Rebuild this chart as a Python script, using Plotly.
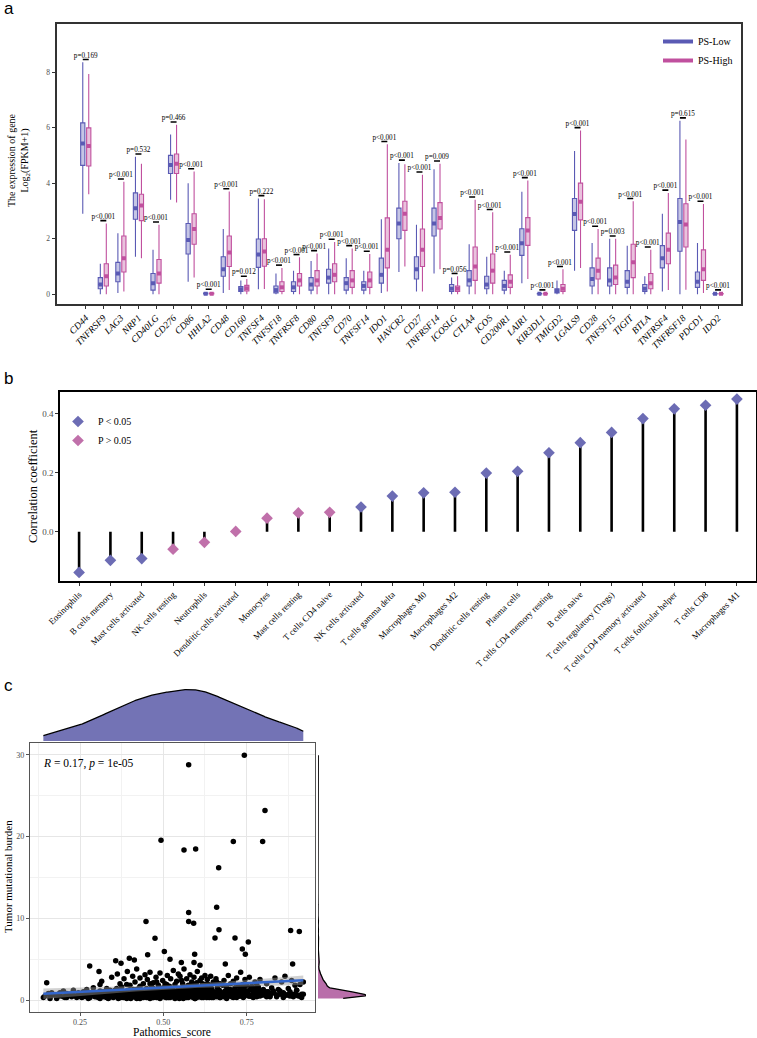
import numpy as np
import plotly.graph_objects as go

W, H = 757, 1038
def fx(p): return p / W
def fy(p): return 1 - p / H

SERIF = "Liberation Serif"
BLUE = "#5A5AB4"
PINK = "#C0509E"
BLUE_FILL = "rgba(90,90,180,0.35)"
PINK_FILL = "rgba(192,80,158,0.35)"

# ---------------- Panel a data ----------------
genes = ["CD44", "TNFRSF9", "LAG3", "NRP1", "CD40LG", "CD276", "CD86", "HHLA2", "CD48", "CD160",
         "TNFSF4", "TNFSF18", "TNFRSF8", "CD80", "TNFSF9", "CD70", "TNFSF14", "IDO1", "HAVCR2", "CD27",
         "TNFRSF14", "ICOSLG", "CTLA4", "ICOS", "CD200R1", "LAIR1", "KIR3DL1", "TMIGD2", "LGALS9", "CD28",
         "TNFSF15", "TIGIT", "BTLA", "TNFRSF4", "TNFRSF18", "PDCD1", "IDO2"]
low_lower = [2.9, 0.0, 0.05, 1.35, 0.0, 3.4, 0.45, 0.0, 0.05, 0.0,
             0.18, 0.0, 0.0, 0.0, 0.0, 0.0, 0.0, 0.05, 0.8, 0.1,
             0.75, 0.0, 0.0, 0.0, 0.0, 0.4, 0.0, 0.0, 0.85, 0.0,
             0.0, 0.0, 0.0, 0.1, 0.0, 0.0, 0.0]
low_q1 = [4.64, 0.2, 0.45, 2.7, 0.15, 4.35, 1.45, 0.01, 0.65, 0.1,
          0.97, 0.05, 0.1, 0.15, 0.4, 0.15, 0.15, 0.4, 2.0, 0.55,
          2.1, 0.1, 0.3, 0.2, 0.15, 1.4, 0.01, 0.05, 2.3, 0.3,
          0.3, 0.25, 0.1, 0.95, 1.55, 0.25, 0.01]
low_median = [5.43, 0.35, 0.75, 3.1, 0.4, 4.65, 1.95, 0.02, 0.9, 0.18,
              1.43, 0.15, 0.25, 0.35, 0.6, 0.4, 0.3, 0.7, 2.55, 0.9,
              2.55, 0.2, 0.5, 0.35, 0.3, 1.84, 0.02, 0.12, 2.89, 0.55,
              0.5, 0.45, 0.2, 1.3, 2.6, 0.45, 0.02]
low_q3 = [6.17, 0.6, 1.15, 3.65, 0.75, 5.0, 2.55, 0.04, 1.35, 0.28,
          1.99, 0.3, 0.45, 0.6, 0.9, 0.6, 0.45, 1.3, 3.1, 1.35,
          3.1, 0.35, 0.85, 0.65, 0.5, 2.36, 0.03, 0.2, 3.45, 0.95,
          0.95, 0.85, 0.35, 1.75, 3.45, 0.8, 0.03]
low_upper = [8.35, 1.1, 2.2, 4.95, 1.6, 5.75, 4.0, 0.08, 2.35, 0.5,
             3.45, 0.75, 0.85, 1.2, 1.65, 1.3, 0.85, 2.7, 4.73, 2.5,
             4.5, 0.6, 1.8, 1.35, 0.85, 3.69, 0.06, 0.5, 5.16, 1.85,
             2.0, 1.75, 0.65, 2.9, 6.25, 1.85, 0.06]
high_lower = [3.6, 0.0, 0.1, 1.3, 0.0, 3.3, 0.6, 0.0, 0.15, 0.0,
              0.19, 0.0, 0.0, 0.0, 0.0, 0.0, 0.0, 0.1, 1.0, 0.1,
              0.9, 0.0, 0.0, 0.0, 0.0, 0.55, 0.0, 0.0, 0.95, 0.0,
              0.0, 0.0, 0.0, 0.15, 0.16, 0.05, 0.0]
high_q1 = [4.62, 0.3, 0.8, 2.65, 0.4, 4.35, 1.8, 0.01, 1.0, 0.12,
           1.01, 0.1, 0.3, 0.3, 0.45, 0.25, 0.25, 0.95, 2.3, 1.0,
           2.35, 0.1, 0.5, 0.4, 0.25, 1.76, 0.01, 0.1, 2.68, 0.55,
           0.35, 0.6, 0.2, 1.1, 1.7, 0.5, 0.01]
high_median = [5.34, 0.65, 1.3, 3.2, 0.75, 4.7, 2.35, 0.02, 1.5, 0.22,
               1.54, 0.25, 0.5, 0.5, 0.7, 0.5, 0.5, 1.6, 2.9, 1.6,
               2.75, 0.2, 1.0, 0.85, 0.45, 2.3, 0.02, 0.2, 3.33, 0.85,
               0.6, 1.15, 0.4, 1.6, 2.51, 0.9, 0.02]
high_q3 = [5.99, 1.1, 2.1, 3.6, 1.25, 5.05, 2.9, 0.04, 2.1, 0.32,
           2.0, 0.45, 0.75, 0.85, 1.1, 0.85, 0.8, 2.75, 3.35, 2.35,
           3.3, 0.3, 1.7, 1.45, 0.7, 2.76, 0.03, 0.35, 4.0, 1.3,
           1.05, 1.8, 0.75, 2.2, 3.26, 1.6, 0.03]
high_upper = [7.93, 2.55, 4.05, 4.7, 2.5, 6.1, 4.42, 0.08, 3.7, 0.55,
              3.42, 0.95, 1.33, 1.47, 1.88, 1.65, 1.45, 5.4, 4.68, 4.3,
              4.7, 0.65, 3.4, 2.95, 1.42, 4.1, 0.06, 0.9, 5.9, 2.35,
              2.0, 3.35, 1.6, 3.65, 5.57, 3.25, 0.06]
pvals = ["p=0.169", "p<0.001", "p<0.001", "p=0.532", "p<0.001", "p=0.466", "p<0.001", "p<0.001", "p<0.001", "p=0.012",
         "p=0.222", "p<0.001", "p<0.001", "p<0.001", "p<0.001", "p<0.001", "p<0.001", "p<0.001", "p<0.001", "p<0.001",
         "p=0.009", "p=0.056", "p<0.001", "p<0.001", "p<0.001", "p<0.001", "p<0.001", "p<0.001", "p<0.001", "p<0.001",
         "p=0.003", "p<0.001", "p<0.001", "p<0.001", "p=0.615", "p<0.001", "p<0.001"]

# ---------------- Panel b data ----------------
cells = ["Eosinophils", "B cells memory", "Mast cells activated", "NK cells resting", "Neutrophils",
         "Dendritic cells activated", "Monocytes", "Mast cells resting", "T cells CD4 naive", "NK cells activated",
         "T cells gamma delta", "Macrophages M0", "Macrophages M2", "Dendritic cells resting", "Plasma cells",
         "T cells CD4 memory resting", "B cells naive", "T cells regulatory (Tregs)", "T cells CD4 memory activated",
         "T cells follicular helper", "T cells CD8", "Macrophages M1"]
corr = [-0.138, -0.097, -0.091, -0.059, -0.036, 0.001, 0.046, 0.064, 0.066, 0.084,
        0.121, 0.132, 0.134, 0.199, 0.205, 0.268, 0.302, 0.337, 0.384, 0.417, 0.429, 0.450]
significant = [True, True, True, False, False, False, False, False, False, True,
               True, True, True, True, True, True, True, True, True, True, True, True]

# ---------------- Panel c data ----------------
score = [0.576, 0.743, 0.805, 0.493, 0.562, 0.597, 0.71, 0.798, 0.666, 0.66, 0.576, 0.576, 0.591, 0.448,
         0.667, 0.882, 0.908, 0.475, 0.655, 0.715, 0.755, 0.737, 0.746, 0.503, 0.453, 0.594, 0.888, 0.357,
         0.373, 0.398, 0.413, 0.279, 0.307, 0.52, 0.554, 0.592, 0.686, 0.61,
         0.14, 0.145, 0.15, 0.155, 0.16, 0.165, 0.17, 0.18, 0.185, 0.19, 0.2, 0.205, 0.21, 0.22, 0.225, 0.23, 0.24, 0.245,
         0.25, 0.255, 0.26, 0.265, 0.27, 0.275, 0.28, 0.285, 0.29, 0.295, 0.3, 0.305, 0.31, 0.315, 0.32, 0.325, 0.33, 0.335,
         0.34, 0.345, 0.35, 0.345, 0.31, 0.29, 0.33,
         0.355, 0.36, 0.362, 0.365, 0.37, 0.372, 0.375, 0.38, 0.382, 0.385, 0.39, 0.392, 0.395, 0.4, 0.402, 0.405, 0.408,
         0.41, 0.412, 0.415, 0.418, 0.42, 0.422, 0.425, 0.428, 0.43, 0.432, 0.435, 0.438, 0.44, 0.442, 0.445, 0.448, 0.45,
         0.37, 0.39, 0.41, 0.43, 0.36, 0.44,
         0.452, 0.455, 0.458, 0.46, 0.462, 0.465, 0.468, 0.47, 0.472, 0.475, 0.478, 0.48, 0.482, 0.485, 0.488, 0.49, 0.492,
         0.495, 0.498, 0.5, 0.502, 0.505, 0.508, 0.51, 0.512, 0.515, 0.518, 0.52, 0.522, 0.525, 0.528, 0.53, 0.532, 0.535,
         0.538, 0.54, 0.542, 0.545, 0.548, 0.55, 0.47, 0.49, 0.51, 0.53, 0.46, 0.5, 0.52, 0.54, 0.48, 0.545,
         0.552, 0.555, 0.558, 0.56, 0.562, 0.565, 0.568, 0.57, 0.572, 0.575, 0.578, 0.58, 0.582, 0.585, 0.588, 0.59, 0.592,
         0.595, 0.598, 0.6, 0.602, 0.605, 0.608, 0.61, 0.612, 0.615, 0.618, 0.62, 0.622, 0.625, 0.628, 0.63, 0.632, 0.635,
         0.638, 0.64, 0.642, 0.645, 0.648, 0.65, 0.56, 0.58, 0.6, 0.62, 0.64, 0.57, 0.59, 0.61, 0.63, 0.65, 0.555, 0.585,
         0.615, 0.635, 0.605,
         0.652, 0.655, 0.658, 0.66, 0.662, 0.665, 0.668, 0.67, 0.672, 0.675, 0.678, 0.68, 0.682, 0.685, 0.688, 0.69, 0.692,
         0.695, 0.698, 0.7, 0.702, 0.705, 0.708, 0.71, 0.712, 0.715, 0.718, 0.72, 0.722, 0.725, 0.728, 0.73, 0.732, 0.735,
         0.738, 0.74, 0.742, 0.745, 0.748, 0.75, 0.67, 0.69, 0.71, 0.73, 0.66,
         0.752, 0.755, 0.758, 0.76, 0.762, 0.765, 0.768, 0.77, 0.772, 0.775, 0.778, 0.78, 0.782, 0.785, 0.788, 0.79, 0.792,
         0.795, 0.8, 0.805, 0.81, 0.815, 0.82, 0.825, 0.83, 0.835, 0.84, 0.845, 0.85, 0.78,
         0.855, 0.86, 0.865, 0.87, 0.875, 0.88, 0.885, 0.89, 0.895, 0.9, 0.905, 0.91, 0.915, 0.92,
         0.16, 0.19, 0.21, 0.23, 0.26, 0.27, 0.28, 0.3, 0.31, 0.32, 0.33, 0.34, 0.35, 0.36, 0.365, 0.37, 0.375, 0.38, 0.385,
         0.39, 0.395, 0.4, 0.405, 0.41, 0.415, 0.42, 0.425, 0.43, 0.435, 0.44, 0.445, 0.45, 0.455, 0.46, 0.465, 0.47, 0.475,
         0.48, 0.485, 0.49, 0.495, 0.5, 0.505, 0.51, 0.515, 0.52, 0.525, 0.53, 0.535, 0.54, 0.545, 0.55, 0.555, 0.56, 0.565,
         0.57, 0.575, 0.58, 0.585, 0.59, 0.595, 0.6, 0.605, 0.61, 0.615, 0.62, 0.625, 0.63, 0.635, 0.64, 0.645, 0.65, 0.655,
         0.66, 0.665, 0.67, 0.675, 0.68, 0.685, 0.69, 0.695, 0.7, 0.705, 0.71, 0.715, 0.72, 0.725, 0.73, 0.735, 0.74, 0.75,
         0.76, 0.77, 0.78, 0.79, 0.8, 0.81, 0.82, 0.83, 0.84, 0.86, 0.88, 0.9, 0.915,
         0.3, 0.32, 0.34, 0.36, 0.38, 0.4, 0.41, 0.42, 0.43, 0.44, 0.45, 0.46, 0.47, 0.48, 0.49, 0.5, 0.51, 0.52, 0.53, 0.54,
         0.55, 0.56, 0.57, 0.58, 0.59, 0.6, 0.61, 0.62, 0.63, 0.64, 0.25, 0.27, 0.29, 0.31, 0.33, 0.35, 0.37, 0.39, 0.42, 0.47,
         0.2, 0.22, 0.24, 0.26, 0.28, 0.3, 0.31, 0.32, 0.33, 0.34, 0.35, 0.36, 0.37, 0.38, 0.39, 0.4, 0.41, 0.42, 0.43, 0.44,
         0.45, 0.46, 0.465, 0.47, 0.475, 0.48, 0.485, 0.49, 0.495, 0.5, 0.505, 0.51, 0.515, 0.52, 0.525, 0.53, 0.535, 0.54,
         0.545, 0.55, 0.555, 0.56, 0.565, 0.57, 0.575, 0.58, 0.585, 0.59, 0.595, 0.6, 0.605, 0.61, 0.615, 0.62, 0.625, 0.63,
         0.635, 0.64, 0.645, 0.65, 0.655, 0.66, 0.665, 0.67, 0.675, 0.68, 0.69, 0.7, 0.71, 0.72, 0.73, 0.74, 0.75, 0.76,
         0.77, 0.78, 0.79, 0.8, 0.81, 0.82, 0.83, 0.84, 0.85, 0.86, 0.87, 0.88, 0.89, 0.9, 0.91, 0.92]
tmb = [28.8, 29.96, 23.2, 19.55, 18.37, 18.5, 19.4, 19.4, 16.2, 11.35, 10.7, 9.6, 9.4, 9.6,
       8.6, 8.5, 8.4, 7.55, 7.6, 7.6, 7.1, 6.25, 5.6, 5.95, 5.55, 5.6, 4.4, 4.8,
       4.5, 5.1, 4.9, 4.15, 3.5, 5.0, 4.6, 4.6, 4.4, 4.25,
       0.3, 0.5, 2.1, 0.8, 0.4, 0.9, 0.6, 0.2, 0.7, 0.5, 1.1, 0.3, 0.8, 0.6, 0.4, 1.2, 0.5, 0.9,
       0.7, 0.3, 1.0, 0.5, 1.3, 0.2, 0.8, 0.6, 1.5, 0.4, 0.9, 0.3, 1.1, 2.3, 0.6, 0.5, 1.4, 0.2,
       0.8, 2.8, 0.7, 0.4, 1.9, 0.7, 1.0,
       1.2, 0.5, 3.2, 0.9, 2.0, 0.3, 1.6, 0.7, 2.6, 0.4, 1.1, 3.5, 0.6, 1.8, 0.2, 0.9, 2.9,
       1.3, 0.5, 2.2, 0.8, 3.8, 1.0, 0.3, 1.5, 2.7, 0.6, 1.2, 0.4, 2.0, 0.9, 3.1, 0.7, 1.4,
       0.8, 1.9, 0.6, 1.7, 1.4, 0.5,
       2.5, 0.5, 1.1, 3.4, 0.8, 1.6, 0.3, 2.1, 1.0, 0.6, 2.8, 1.3, 0.4, 1.8, 0.9, 3.3, 1.2,
       0.5, 2.4, 1.5, 0.7, 2.0, 0.3, 1.1, 3.0, 0.8, 1.7, 0.5, 2.6, 1.3, 0.9, 3.6, 0.4, 1.9,
       1.0, 2.3, 0.6, 1.4, 0.2, 2.9, 1.4, 0.7, 1.9, 1.2, 2.0, 0.9, 1.6, 0.8, 2.2, 3.2,
       1.2, 0.5, 2.0, 1.0, 3.8, 0.7, 1.5, 2.6, 0.4, 1.8, 1.1, 3.1, 0.6, 2.2, 1.4, 0.3, 2.8,
       1.0, 1.7, 0.8, 3.5, 1.3, 0.5, 2.4, 1.6, 0.9, 2.0, 0.4, 1.2, 3.0, 1.9, 0.7, 2.5, 1.1,
       0.3, 1.8, 2.9, 1.4, 0.6, 2.2, 1.7, 0.9, 2.1, 1.5, 1.0, 0.5, 1.3, 0.7, 1.6, 0.8, 2.4, 1.9,
       2.7, 1.9, 1.1,
       1.0, 0.5, 2.6, 0.8, 1.5, 0.6, 1.2, 2.0, 0.4, 0.9, 1.8, 0.7, 2.4, 1.1, 0.5, 1.6, 0.9,
       3.0, 0.6, 1.3, 2.0, 0.4, 1.1, 2.3, 0.8, 1.5, 0.6, 2.7, 1.0, 1.7, 0.5, 1.2, 3.4, 0.9,
       1.9, 0.7, 1.4, 2.5, 1.0, 1.8, 0.8, 1.1, 0.7, 1.6, 2.2,
       0.9, 0.5, 2.8, 1.3, 0.6, 1.7, 0.4, 0.9, 1.4, 2.2, 0.7, 1.2, 0.5, 1.6, 0.8, 2.5, 1.1,
       0.6, 1.3, 0.7, 2.0, 1.0, 0.5, 1.5, 0.9, 2.7, 0.6, 1.3, 1.1, 1.9,
       2.2, 0.8, 2.9, 0.6, 1.4, 1.0, 2.4, 0.7, 1.8, 1.2, 0.5, 1.9, 0.3, 2.2,
       0.2, 0.9, 0.3, 0.6, 0.4, 0.9, 0.3, 0.6, 0.2, 1.0, 0.5, 0.9, 0.3, 0.7, 0.2, 1.1, 0.5, 0.3, 0.9,
       0.2, 1.2, 0.5, 0.3, 1.0, 0.4, 0.7, 1.1, 0.2, 0.8, 0.3, 1.0, 0.4, 1.2, 0.2, 0.9, 0.5, 1.1,
       0.3, 0.7, 0.2, 1.0, 0.4, 1.2, 0.6, 0.3, 0.9, 0.5, 1.1, 0.3, 0.7, 1.0, 0.4, 0.8, 0.2, 1.2,
       0.6, 0.3, 1.0, 0.5, 0.8, 0.2, 1.1, 0.4, 0.9, 0.3, 1.2, 0.6, 0.3, 0.9, 0.5, 1.1, 0.3, 0.8,
       0.5, 1.2, 0.3, 0.7, 0.4, 1.0, 0.2, 0.9, 0.5, 1.2, 0.4, 0.8, 0.3, 1.0, 0.5, 0.7, 0.3, 1.1,
       0.5, 0.9, 0.4, 1.2, 0.6, 1.0, 0.4, 1.1, 0.6, 0.9, 0.5, 1.2, 0.7,
       0.8, 0.4, 1.2, 0.6, 1.0, 0.3, 0.8, 1.3, 0.5, 0.9, 0.3, 1.1, 0.7, 1.2, 0.4, 0.8, 1.3, 0.3, 0.7, 1.1,
       0.6, 0.9, 0.4, 1.3, 0.7, 0.3, 1.0, 0.6, 1.2, 0.4, 0.5, 0.4, 1.0, 0.7, 0.3, 0.9, 0.5, 0.6, 0.2, 0.3,
       0.4, 0.7, 0.3, 0.6, 0.9, 0.4, 0.6, 0.8, 0.3, 0.5, 0.7, 0.4, 0.9, 0.5, 0.3, 0.7, 0.5, 0.9, 0.4, 0.6,
       0.8, 0.3, 0.6, 0.9, 0.4, 0.6, 1.0, 0.3, 0.7, 0.5, 0.9, 0.3, 0.6, 0.8, 0.4, 0.7, 0.2, 0.6,
       0.9, 0.4, 0.7, 0.5, 0.9, 0.3, 0.6, 0.8, 0.4, 0.7, 0.2, 0.6, 0.9, 0.4, 0.7, 0.3, 0.6, 0.8,
       0.4, 0.7, 0.3, 0.6, 0.9, 0.4, 0.7, 0.3, 0.6, 0.8, 0.4, 0.7, 0.3, 0.6, 0.9, 0.4, 0.7, 0.5,
       0.3, 0.8, 0.5, 0.7, 0.4, 0.6, 0.9, 0.4, 0.7, 0.3, 0.6, 0.8, 0.4, 0.6, 0.5, 0.7]
stat_label = "<i>R</i> = 0.17, <i>p</i> = 1e-05"

fig = go.Figure()

# ================= Panel a =================
xs = np.arange(len(genes))
OFF = 0.17
for offs, lo, q1, med, q3, up, col, fill in [
        (-OFF, low_lower, low_q1, low_median, low_q3, low_upper, BLUE, BLUE_FILL),
        (OFF, high_lower, high_q1, high_median, high_q3, high_upper, PINK, PINK_FILL)]:
    fig.add_trace(go.Box(x=xs + offs, q1=q1, median=med, q3=q3, lowerfence=lo, upperfence=up,
                         width=0.24, whiskerwidth=0, boxpoints=False,
                         line=dict(color=col, width=1.1), fillcolor=fill,
                         showlegend=False, hoverinfo="skip", xaxis="x", yaxis="y"))
    fig.add_trace(go.Scatter(x=xs + offs, y=med, mode="markers",
                             marker=dict(symbol="square", size=4, color=col),
                             showlegend=False, hoverinfo="skip", xaxis="x", yaxis="y"))

bar_y = [max(a, b) + 0.1 for a, b in zip(low_upper, high_upper)]
seg_x, seg_y = [], []
for i, b in enumerate(bar_y):
    seg_x += [i - OFF, i + OFF, None]
    seg_y += [b, b, None]
fig.add_trace(go.Scatter(x=seg_x, y=seg_y, mode="lines", line=dict(color="black", width=1.6),
                         showlegend=False, hoverinfo="skip", xaxis="x", yaxis="y"))
fig.add_trace(go.Scatter(x=xs, y=bar_y, mode="text", text=pvals, textposition="top center",
                         textfont=dict(family=SERIF, size=7.2, color="black"),
                         showlegend=False, hoverinfo="skip", xaxis="x", yaxis="y"))
for name, col in [("PS-Low", BLUE), ("PS-High", PINK)]:
    fig.add_trace(go.Scatter(x=[None], y=[None], mode="lines", name=name,
                             line=dict(color=col, width=4), legend="legend", xaxis="x", yaxis="y"))

# ================= Panel b =================
cx = np.arange(len(cells))
lx, ly = [], []
for i, v in enumerate(corr):
    lx += [i, i, None]
    ly += [0, v, None]
fig.add_trace(go.Scatter(x=lx, y=ly, mode="lines", line=dict(color="black", width=2.6),
                         showlegend=False, hoverinfo="skip", xaxis="x2", yaxis="y2"))
for name, flag, col in [("P < 0.05", True, "#6C6CB4"), ("P > 0.05", False, "#C070AA")]:
    fig.add_trace(go.Scatter(x=[i for i in cx if significant[i] == flag],
                             y=[corr[i] for i in cx if significant[i] == flag],
                             mode="markers", name=name, legend="legend2",
                             marker=dict(symbol="diamond", size=9, color=col),
                             xaxis="x2", yaxis="y2"))

# ================= Panel c =================
sx = np.array(score)
sy = np.array(tmb)
fig.add_trace(go.Scatter(x=sx, y=sy, mode="markers", marker=dict(color="black", size=5.5),
                         showlegend=False, hoverinfo="skip", xaxis="x3", yaxis="y3"))
slope, intercept = np.polyfit(sx, sy, 1)
gx = np.linspace(sx.min(), sx.max(), 80)
gy = intercept + slope * gx
n = len(sx)
resid = sy - (intercept + slope * sx)
s = np.sqrt((resid ** 2).sum() / (n - 2))
se = s * np.sqrt(1 / n + (gx - sx.mean()) ** 2 / ((sx - sx.mean()) ** 2).sum())
fig.add_trace(go.Scatter(x=np.concatenate([gx, gx[::-1]]), y=np.concatenate([gy + 1.97 * se, (gy - 1.97 * se)[::-1]]),
                         fill="toself", fillcolor="rgba(153,153,153,0.45)", line=dict(width=0),
                         showlegend=False, hoverinfo="skip", xaxis="x3", yaxis="y3"))
fig.add_trace(go.Scatter(x=gx, y=gy, mode="lines", line=dict(color="#3366CC", width=2.6),
                         showlegend=False, hoverinfo="skip", xaxis="x3", yaxis="y3"))


def kde(data, grid):
    data = np.asarray(data)
    sd = np.std(data, ddof=1)
    iqr = np.subtract(*np.percentile(data, [75, 25]))
    bw = 0.9 * min(sd, iqr / 1.34) * len(data) ** -0.2
    z = (grid[:, None] - data[None, :]) / bw
    return np.exp(-0.5 * z ** 2).sum(1) / (len(data) * bw * np.sqrt(2 * np.pi))


dgx = np.linspace(sx.min(), sx.max(), 300)
ddx = kde(sx, dgx)
fig.add_trace(go.Scatter(x=dgx, y=ddx, mode="lines", fill="tozeroy", fillcolor="#7373B5",
                         line=dict(color="black", width=1.3), showlegend=False, hoverinfo="skip",
                         xaxis="x4", yaxis="y4"))
dgy = np.linspace(sy.min(), sy.max(), 600)
ddy = kde(sy, dgy)
fig.add_trace(go.Scatter(x=ddy, y=dgy, mode="lines", fill="tozerox", fillcolor="#B96EAA",
                         line=dict(color="black", width=1.3), showlegend=False, hoverinfo="skip",
                         xaxis="x5", yaxis="y5"))

# ================= Layout =================
frame_a = dict(showline=True, mirror=True, linecolor="#333333", linewidth=1.5, showgrid=False,
               zeroline=False, automargin=False)
frame_b = dict(showline=True, mirror=True, linecolor="black", linewidth=2.2, showgrid=False,
               zeroline=False, automargin=False)
frame_c = dict(showline=True, mirror=True, linecolor="#555555", linewidth=0.9, zeroline=False,
               automargin=False, gridcolor="#E6E6E6", gridwidth=0.8)
hidden = dict(visible=False, showgrid=False, zeroline=False, automargin=False)


def label(text, x, y, size, angle=0, family=SERIF, xanchor="center"):
    return dict(text=text, x=fx(x), y=fy(y), xref="paper", yref="paper", showarrow=False,
                xanchor=xanchor, yanchor="middle", textangle=angle,
                font=dict(family=family, size=size, color="black"))


fig.update_layout(
    width=W, height=H, autosize=False, margin=dict(l=0, r=0, t=0, b=0),
    paper_bgcolor="white", plot_bgcolor="white",
    font=dict(family=SERIF, color="black"),
    boxmode="overlay",
    xaxis=dict(domain=[fx(57.3), fx(740.7)], range=[-1.62, 37.29], anchor="y",
               tickmode="array", tickvals=list(xs), ticktext=genes, tickangle=-45,
               tickfont=dict(family=SERIF, size=9.5, style="italic", color="black"),
               ticks="outside", ticklen=3, tickcolor="#333333", **frame_a),
    yaxis=dict(domain=[fy(304), fy(24)], range=[-0.35, 9.73], anchor="x",
               tickvals=[0, 2, 4, 6, 8], tickfont=dict(family=SERIF, size=7.5, color="#4D4D4D"),
               ticks="outside", ticklen=4, tickcolor="#333333", **frame_a),
    xaxis2=dict(domain=[fx(60.3), fx(755.7)], range=[-0.6, 21.6], anchor="y2",
                tickmode="array", tickvals=list(cx), ticktext=cells, tickangle=-45,
                tickfont=dict(family=SERIF, size=9, color="black"),
                ticks="outside", ticklen=3, tickcolor="#333333", **frame_b),
    yaxis2=dict(domain=[fy(580.7), fy(391.7)], range=[-0.166, 0.475], anchor="x2",
                tickvals=[0.0, 0.2, 0.4], ticktext=["0.0", "0.2", "0.4"],
                tickfont=dict(family=SERIF, size=9, color="#4D4D4D"),
                ticks="outside", ticklen=3, tickcolor="#333333", **frame_b),
    xaxis3=dict(domain=[fx(29.7), fx(315.3)], range=[0.099, 0.956], anchor="y3",
                tickvals=[0.25, 0.5, 0.75], ticktext=["0.25", "0.50", "0.75"],
                tickfont=dict(family=SERIF, size=8, color="#4D4D4D"),
                ticks="outside", ticklen=3, tickcolor="#555555",
                minor=dict(showgrid=True, gridcolor="#F2F2F2", gridwidth=0.6, tick0=0, dtick=0.125),
                showgrid=True, **frame_c),
    yaxis3=dict(domain=[fy(1011.7), fy(743.3)], range=[-1.43, 31.43], anchor="x3",
                tickvals=[0, 10, 20, 30], tickfont=dict(family=SERIF, size=8, color="#4D4D4D"),
                ticks="outside", ticklen=3, tickcolor="#555555",
                minor=dict(showgrid=True, gridcolor="#F2F2F2", gridwidth=0.6, tick0=0, dtick=5),
                showgrid=True, **frame_c),
    xaxis4=dict(domain=[fx(29.7), fx(315.3)], range=[0.099, 0.956], anchor="y4", **hidden),
    yaxis4=dict(domain=[fy(741), fy(688)], range=[0, float(ddx.max()) * 1.03], anchor="x4", **hidden),
    xaxis5=dict(domain=[fx(318), fx(366)], range=[0, float(ddy.max()) * 1.0], anchor="y5", **hidden),
    yaxis5=dict(domain=[fy(1011.7), fy(743.3)], range=[-1.43, 31.43], anchor="x5", **hidden),
    legend=dict(x=fx(738), y=fy(27), xanchor="right", yanchor="top", bgcolor="rgba(0,0,0,0)",
                font=dict(family=SERIF, size=10), itemwidth=30, tracegroupgap=0),
    legend2=dict(x=fx(58), y=fy(407), xanchor="left", yanchor="top", bgcolor="rgba(0,0,0,0)",
                 font=dict(family=SERIF, size=10), itemwidth=30, tracegroupgap=0),
    annotations=[
        label("a", 2, 9, 17, family="Liberation Sans", xanchor="left"),
        label("b", 2, 378, 17, family="Liberation Sans", xanchor="left"),
        label("c", 2, 685, 17, family="Liberation Sans", xanchor="left"),
        label("The expression of gene<br>Log<sub>2</sub>(FPKM+1)", 19, 160, 10, angle=-90),
        label("Correlation coefficient", 33, 486, 12.5, angle=-90),
        label("Tumor mutational burden", 8, 877, 11, angle=-90),
        label("Pathomics_score", 172, 1032, 11.5),
        label(stat_label, 41, 763, 11.5, xanchor="left"),
    ],
)

fig.write_html("out.html", config={"displayModeBar": False},
               post_script="document.body.style.margin='0';document.body.style.overflow='hidden';")
